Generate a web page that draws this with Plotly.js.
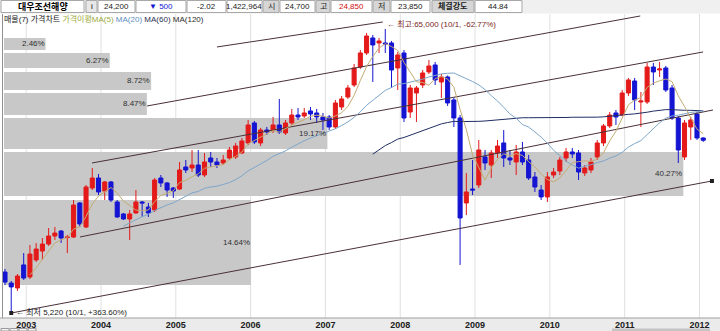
<!DOCTYPE html>
<html><head><meta charset="utf-8">
<script src="https://cdn.plot.ly/plotly-3.0.1.min.js"></script>
<style>html,body{margin:0;padding:0;background:#fff;} #chart{width:720px;height:331px;}</style>
</head><body><div id="chart"></div>
<script>
// ---- data (monthly candles, Sep 2002 .. Jan 2012) ----
const opens  = [7510,6810,6520,8000,7190,8360,9050,9630,10340,10810,10200,10250,13870,11200,15840,17310,15420,16710,13990,12580,12030,12690,13990,13380,13030,17310,16560,15840,15700,19090,18920,19430,17780,20680,19960,19780,20680,20870,21620,23630,28220,23630,26510,26510,27720,25820,28220,30290,30020,31390,30840,29760,29760,27230,32530,35550,39540,46380,52540,60030,57420,57420,57420,45990,52540,31110,36830,39540,44390,47230,40610,42460,34610,29500,13870,15700,16270,20870,19430,21620,23630,20680,19960,21810,20310,17470,15560,14630,17780,18420,20680,21810,21620,18100,18590,20870,23630,27480,30840,30290,36830,40970,34000,34000,46380,45180,45990,38500,29500,20870,27230,30560,24700];
const highs  = [7720,6940,7380,8890,9550,9720,10160,11100,11200,10910,10440,14240,13990,16270,18920,17940,16860,16860,14240,12690,13030,15560,14110,13870,17310,17780,16710,15980,19960,20310,22200,22200,21620,21810,20680,21240,22800,23630,24700,28980,28720,26990,27250,29760,34920,28980,31950,32240,32240,32520,31950,30840,30290,34610,35860,39540,47650,53960,62750,61650,60030,65000,58450,53000,53960,39540,39200,45180,49370,48510,43600,43000,35240,30290,18100,20310,24270,22200,22200,24270,26510,22200,23210,23840,21240,18260,16270,18260,18920,20870,22600,22600,22200,19430,20680,24270,27970,31110,31670,37830,42080,42080,37160,48080,48080,48510,46810,39540,30020,28980,29760,31110,24850];
const lows   = [6690,5220,6350,7000,7060,8210,8360,9470,9980,9720,8890,10160,11200,11100,15560,14890,14240,13990,12140,11920,9980,12600,12250,12250,12800,15980,14630,14500,15560,18100,18260,17470,17470,19090,18920,19430,20310,20500,21400,23210,23420,23000,25370,25820,25590,25370,27720,28980,29500,28980,28220,26510,26510,26750,31670,34920,38840,45580,51630,40610,52540,52540,38500,37830,28470,29500,28470,38500,43600,39540,35240,32820,27230,8000,12460,14890,15840,18590,17310,20680,19090,19430,17780,19430,17010,15290,14240,13990,17310,17780,19960,20680,17010,17620,18100,20310,23000,26990,27720,30020,35860,31670,27230,33400,39540,42460,37160,28980,19780,20310,24270,24270,23850];
const closes = [6870,6580,7250,7120,8810,9210,9630,10340,10620,10160,10250,13620,11510,15980,17310,15290,16710,14240,12250,12030,12580,13990,13870,12690,17010,16560,15560,15420,18590,18590,19430,17780,19960,19960,19430,20310,22200,23000,24050,27720,23840,26510,26050,27720,26050,28220,30290,29760,30840,30560,29760,28980,27230,33700,34920,38500,45990,52540,61100,56410,58450,56910,45180,51630,29500,38500,38500,43990,46810,41340,42460,33700,29500,12140,15290,15560,22200,19780,21620,23000,20680,20310,21810,19960,17310,15980,14630,17470,18260,20310,21810,21430,18260,18920,19960,23630,27480,30290,29760,36830,41340,34610,34300,46380,44390,45580,37830,29500,22200,28220,28980,24700,24200];
const yearLabels = ['2003','2004','2005','2006','2007','2008','2009','2010','2011','2012'];
// volume-at-price bands (매물): price ranges and share
const bandLo  = [53960,45990,37830,30290,22400,14760,6694];
const bandHi  = [60030,52540,44390,36830,29500,21810,14239];
const bandPct = [2.46,6.27,8.72,8.47,19.17,40.27,14.64];
// trend lines: [startIndex, startPrice, endIndex, endPrice]
const trendLines = [
  [34.0,55420,60.6,69190],
  [22.8,32816,101.9,72980],
  [13.96,19779,111.97,53010],
  [12.03,10252,113.57,31670],
  [1,5220,113.4,16858]
];
const maxPoint = {i:61, price:65000, text:'← 최고:65,000 (10/1, -62.77%)'};
const minPoint = {i:1, price:5220, text:'← 최저 5,220 (10/1, +363.60%)'};

// ---- styling ----
const RED='#e41a1a', BLUE='#1414d2';
const FONT="'Liberation Sans', 'Noto Sans CJK KR', sans-serif";
const W=720,H=331,ML=3,MR=2,MT=14,MB=13;
const PW=W-ML-MR, PH=H-MT-MB;
const px = x => (x-ML)/PW;
const py = y => (H-MB-y)/PH;
const XR=[-0.32, 114.37];
const bandPxPerPct = 16.87;   // bar length scale of the 매물 bars
const bandPx0 = 4;

const idx = closes.map((_, i) => i);
function sma(a, k){ return a.map((_, i) => { if(i<k-1) return null; let s=0; for(let j=i-k+1;j<=i;j++) s+=a[j]; return s/k; }); }

const traces = [];
const shapes = [];
const annotations = [];
const tickvals = yearLabels.map((_, k) => 3.4 + 12*k);

// vertical year gridlines (below bands)
tickvals.forEach(v => shapes.push({type:'line', xref:'x', yref:'paper', x0:v, x1:v, y0:0, y1:1, layer:'below', line:{color:'#e0e0e0', width:1}}));
// bands (below candles)
bandPct.forEach((p, b) => {
  shapes.push({type:'rect', xref:'paper', yref:'y', layer:'below',
    x0:px(bandPx0), x1:px(bandPx0 + p*bandPxPerPct), y0:bandLo[b], y1:bandHi[b],
    fillcolor:'#c8c8c8', line:{width:0}});
  annotations.push({xref:'paper', yref:'y', x:px(bandPx0 + p*bandPxPerPct), y:Math.log10(Math.sqrt(bandLo[b]*bandHi[b])),
    text:p.toFixed(2)+'%', showarrow:false, xanchor:'right', yanchor:'middle', xshift:1,
    font:{family:FONT, size:8, color:'#303030'}});
});
// trend lines
trendLines.forEach((t, k) => {
  traces.push({type:'scatter', mode: k===4 ? 'lines+markers' : 'lines', x:[t[0],t[2]], y:[t[1],t[3]],
    line:{color:'#4a3038', width:1}, marker:{symbol:'square', size:4, color:'#202020'}, hoverinfo:'skip', cliponaxis:false});
});
// moving averages
traces.push({type:'scatter', mode:'lines', x:idx, y:sma(closes,60), line:{color:'#1f2d63', width:1}, hoverinfo:'skip'});
traces.push({type:'scatter', mode:'lines', x:idx, y:sma(closes,20), line:{color:'#7ea6c8', width:1}, hoverinfo:'skip'});
traces.push({type:'scatter', mode:'lines', x:idx, y:sma(closes,5), line:{color:'#c4ac72', width:1}, hoverinfo:'skip'});
// candles
traces.push({type:'candlestick', x:idx, open:opens, high:highs, low:lows, close:closes,
  increasing:{line:{color:RED, width:1}, fillcolor:RED},
  decreasing:{line:{color:BLUE, width:1}, fillcolor:BLUE},
  whiskerwidth:0, hoverinfo:'skip'});

// header row
shapes.push({type:'rect', xref:'paper', yref:'paper', x0:px(0), x1:px(720), y0:py(0), y1:py(13.5), fillcolor:'#f0f0f0', line:{width:0}});
const cells = [
  [1,84,'대우조선해양','#000','#ffffff',true,9],
  [86,97,'i','#000','#e8e8e8',false,8],
  [98,135,'24,200','#1a1a1a','#ffffff',false,8],
  [136,186,'▼ 500','#1414d2','#ffffff',false,8],
  [187,226,'-2.02','#1a1a1a','#ffffff',false,8],
  [227,262,'1,422,964','#1a1a1a','#ffffff',false,8],
  [263,279,'시','#1a1a1a','#d6d6d6',false,8],
  [280,315,'24,700','#1a1a1a','#ffffff',false,8],
  [316,330,'고','#1a1a1a','#d6d6d6',false,8],
  [331,372,'24,850','#d01010','#ffffff',false,8],
  [373,390,'저','#1a1a1a','#d6d6d6',false,8],
  [391,430,'23,850','#1a1a1a','#ffffff',false,8],
  [432,474,'체결강도','#1a1a1a','#d6d6d6',true,8],
  [475,522,'44.84','#1a1a1a','#ffffff',false,8]
];
cells.forEach(c => {
  shapes.push({type:'rect', xref:'paper', yref:'paper', x0:px(c[0]), x1:px(c[1]), y0:py(0.5), y1:py(12.5), fillcolor:c[4], line:{color:'#a8a8a8', width:1}});
  annotations.push({xref:'paper', yref:'paper', x:px((c[0]+c[1])/2), y:py(6.5), text: c[5] ? '<b>'+c[2]+'</b>' : c[2],
    showarrow:false, xanchor:'center', yanchor:'middle', font:{family:FONT, size:c[6], color:c[3]}});
});
// legend line
annotations.push({xref:'paper', yref:'paper', x:px(2), y:py(19.5), xanchor:'left', yanchor:'middle', showarrow:false,
  text:'매물(7) 가격차트 <span style="color:#9caa3c">가격이평MA(5)</span> <span style="color:#5b8fc0">MA(20)</span> <span style="color:#2a3050">MA(60)</span> <span style="color:#2a2a2a">MA(120)</span>',
  font:{family:FONT, size:8, color:'#202020'}});
// x label band and bottom scroll strip
shapes.push({type:'rect', xref:'paper', yref:'paper', x0:px(0), x1:px(720), y0:py(331), y1:py(318), fillcolor:'#ebebeb', line:{width:0}, layer:'below'});
shapes.push({type:'line', xref:'paper', yref:'paper', x0:px(0), x1:px(720), y0:py(318), y1:py(318), line:{color:'#a0a0a0', width:1}});
shapes.push({type:'rect', xref:'paper', yref:'paper', x0:px(612), x1:px(710), y0:py(331), y1:py(328.5), fillcolor:'#c4c4c4', line:{width:0}});
[0,9,18,27].forEach(x0 => shapes.push({type:'rect', xref:'paper', yref:'paper', x0:px(x0+1), x1:px(x0+9), y0:py(331), y1:py(328.5), fillcolor:'#f4f4f4', line:{color:'#9a9a9a', width:1}}));
// max / min labels
annotations.push({xref:'x', yref:'y', x:maxPoint.i, y:Math.log10(maxPoint.price), text:maxPoint.text, showarrow:false,
  xanchor:'left', yanchor:'middle', xshift:0, yshift:5, font:{family:FONT, size:8, color:'#7a2424'}});
annotations.push({xref:'x', yref:'y', x:minPoint.i, y:Math.log10(minPoint.price), text:minPoint.text, showarrow:false,
  xanchor:'left', yanchor:'middle', xshift:3, yshift:1, font:{family:FONT, size:8, color:'#202020'}});

const layout = {
  width:W, height:H, margin:{l:ML, r:MR, t:MT, b:MB, pad:0},
  paper_bgcolor:'#ffffff', plot_bgcolor:'#ffffff', showlegend:false,
  boxgap:0.35, boxgroupgap:0,
  xaxis:{type:'linear', range:XR, tickvals:tickvals, ticktext:yearLabels, showgrid:false,
    zeroline:false, ticks:'', showline:false, rangeslider:{visible:false}, fixedrange:true,
    tickfont:{family:FONT, size:9, color:'#202020', weight:'bold'}},
  yaxis:{type:'log', range:[3.6984, 4.8708], showgrid:false, showticklabels:false, zeroline:false, ticks:'',
    showline:true, linecolor:'#909090', linewidth:1, fixedrange:true},
  shapes:shapes, annotations:annotations
};
Plotly.newPlot('chart', traces, layout, {staticPlot:true, displayModeBar:false});
</script></body></html>
